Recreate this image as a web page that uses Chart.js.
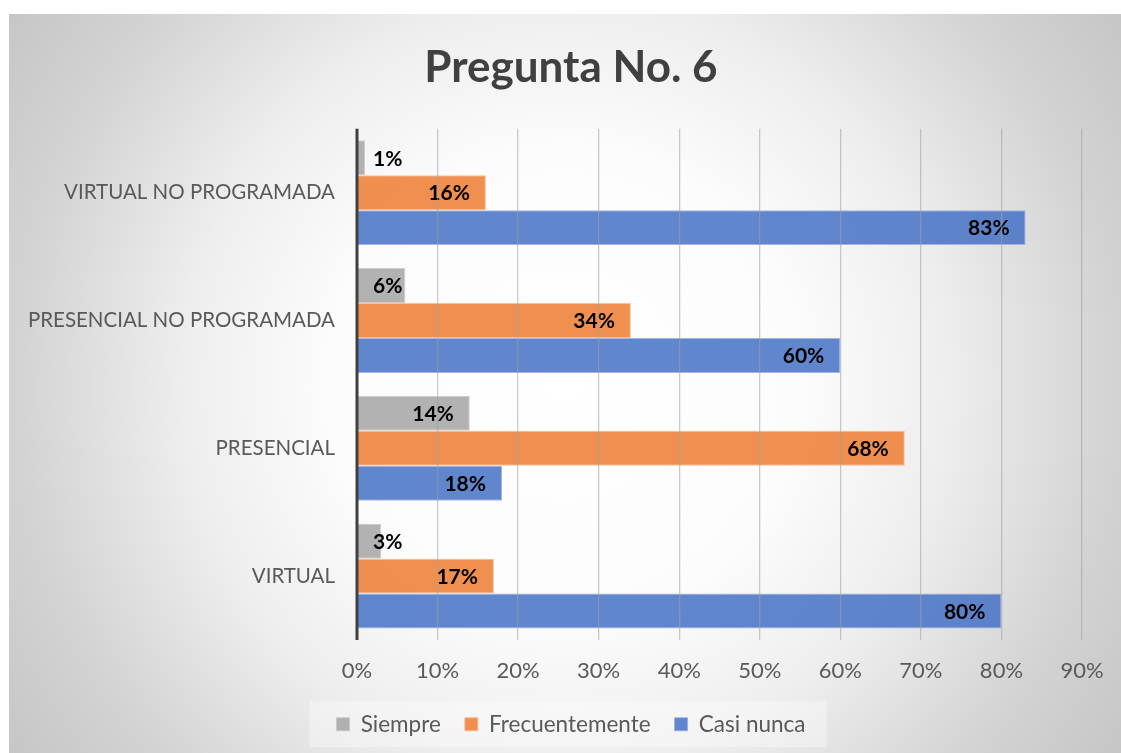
<!DOCTYPE html>
<html>
<head>
<meta charset="utf-8">
<script src="https://cdn.jsdelivr.net/npm/chart.js@4"></script>
<style>
html,body{margin:0;padding:0;background:#fff;}
#wrap{position:absolute;left:0;top:0;width:1121px;height:753px;}
</style>
</head>
<body>
<div id="wrap"><canvas id="c" width="1121" height="753"></canvas></div>
<script>
const categories = ['VIRTUAL NO PROGRAMADA', 'PRESENCIAL NO PROGRAMADA', 'PRESENCIAL', 'VIRTUAL'];
const seriesNames = ['Siempre', 'Frecuentemente', 'Casi nunca'];
const siempre = [1, 6, 14, 3];
const frecuentemente = [16, 34, 68, 17];
const casiNunca = [83, 60, 18, 80];
const xTicks = [0, 10, 20, 30, 40, 50, 60, 70, 80, 90];
const titleText = 'Pregunta No. 6';

const FONT = 'Lato, "Liberation Sans", sans-serif';
const fills = ['rgba(165,165,165,0.85)', 'rgba(237,125,49,0.85)', 'rgba(68,114,196,0.85)'];
const borders = ['rgba(200,200,200,0.9)', 'rgba(248,185,145,0.9)', 'rgba(150,175,225,0.9)'];

const bgPlugin = {
  id: 'bg',
  beforeDraw(chart) {
    const ctx = chart.ctx;
    ctx.save();
    ctx.fillStyle = '#ffffff';
    ctx.fillRect(0, 0, chart.width, chart.height);
    const x0 = 9, y0 = 14, w = chart.width - x0, h = chart.height - y0;
    const cx = x0 + w / 2, cy = y0 + h / 2;
    const r = Math.sqrt((w / 2) ** 2 + (h / 2) ** 2);
    const g = ctx.createRadialGradient(cx, cy, 0, cx, cy, r);
    g.addColorStop(0, '#ffffff');
    g.addColorStop(0.35, '#fcfcfc');
    g.addColorStop(0.57, '#eeeeee');
    g.addColorStop(0.82, '#d3d3d3');
    g.addColorStop(1, '#c6c6c6');
    ctx.fillStyle = g;
    ctx.fillRect(x0, y0, w, h);
    const lg = chart.legend;
    if (lg && lg.legendHitBoxes && lg.legendHitBoxes.length) {
      const hb = lg.legendHitBoxes;
      const l = hb[0].left - 27;
      const rr = hb[hb.length - 1].left + hb[hb.length - 1].width + 21;
      const cyL = hb[0].top + hb[0].height / 2;
      ctx.fillStyle = 'rgba(255,255,255,0.35)';
      ctx.fillRect(l, cyL - 23, rr - l, 46);
    }
    ctx.restore();
  }
};

const labelPlugin = {
  id: 'barLabels',
  afterDatasetsDraw(chart) {
    const ctx = chart.ctx;
    const left = chart.chartArea.left;
    ctx.save();
    ctx.font = 'bold 21px ' + FONT;
    ctx.fillStyle = '#000000';
    ctx.textBaseline = 'middle';
    ctx.textAlign = 'left';
    chart.data.datasets.forEach((ds, di) => {
      const meta = chart.getDatasetMeta(di);
      meta.data.forEach((el, i) => {
        const txt = ds.data[i] + '%';
        const w = ctx.measureText(txt).width;
        let x = el.x - 16 - w;
        if (x < left + 16) x = left + 16;
        ctx.fillText(txt, x, el.y + 1);
      });
    });
    ctx.restore();
  }
};

const axisLinePlugin = {
  id: 'axisLine',
  afterDraw(chart) {
    const ctx = chart.ctx;
    const a = chart.chartArea;
    ctx.save();
    ctx.strokeStyle = '#404040';
    ctx.lineWidth = 3;
    ctx.beginPath();
    ctx.moveTo(a.left, a.top);
    ctx.lineTo(a.left, a.bottom);
    ctx.stroke();
    ctx.restore();
  }
};

new Chart(document.getElementById('c'), {
  type: 'bar',
  data: {
    labels: categories,
    datasets: [
      { label: seriesNames[0], data: siempre, backgroundColor: fills[0], borderColor: borders[0], borderWidth: 1 },
      { label: seriesNames[1], data: frecuentemente, backgroundColor: fills[1], borderColor: borders[1], borderWidth: 1 },
      { label: seriesNames[2], data: casiNunca, backgroundColor: fills[2], borderColor: borders[2], borderWidth: 1 }
    ]
  },
  options: {
    indexAxis: 'y',
    responsive: false,
    animation: false,
    devicePixelRatio: 1,
    categoryPercentage: 0.82,
    barPercentage: 1,
    layout: { padding: { left: 26, right: 5, top: 14, bottom: 7.5 } },
    scales: {
      x: {
        type: 'linear',
        min: 0, max: 90,
        afterBuildTicks(s) { s.ticks = xTicks.map(v => ({ value: v })); },
        afterFit(s) { s.height = 49; s.paddingRight = 39; },
        ticks: { stepSize: 10, callback: v => v + '%', color: '#595959', font: { family: FONT, size: 22 }, padding: 18 },
        grid: { color: 'rgba(160,160,160,0.55)', lineWidth: 1.3, drawTicks: false, z: 1 },
        border: { display: false }
      },
      y: {
        afterFit(s) { s.width = 357 - 26; },
        ticks: { color: '#595959', font: { family: FONT, size: 20.5 }, padding: 22 },
        grid: { display: false, drawTicks: false },
        border: { display: false }
      }
    },
    plugins: {
      title: {
        display: true,
        text: titleText,
        color: '#404040',
        font: { family: FONT, size: 44, weight: 'bold' },
        padding: { top: 27, bottom: 35 }
      },
      legend: {
        position: 'bottom',
        labels: {
          boxWidth: 13, boxHeight: 13,
          color: '#595959',
          font: { family: FONT, size: 22.5 },
          padding: 24,
          useBorderRadius: false
        }
      },
      tooltip: { enabled: false }
    }
  },
  plugins: [bgPlugin, labelPlugin, axisLinePlugin]
});
</script>
</body>
</html>
